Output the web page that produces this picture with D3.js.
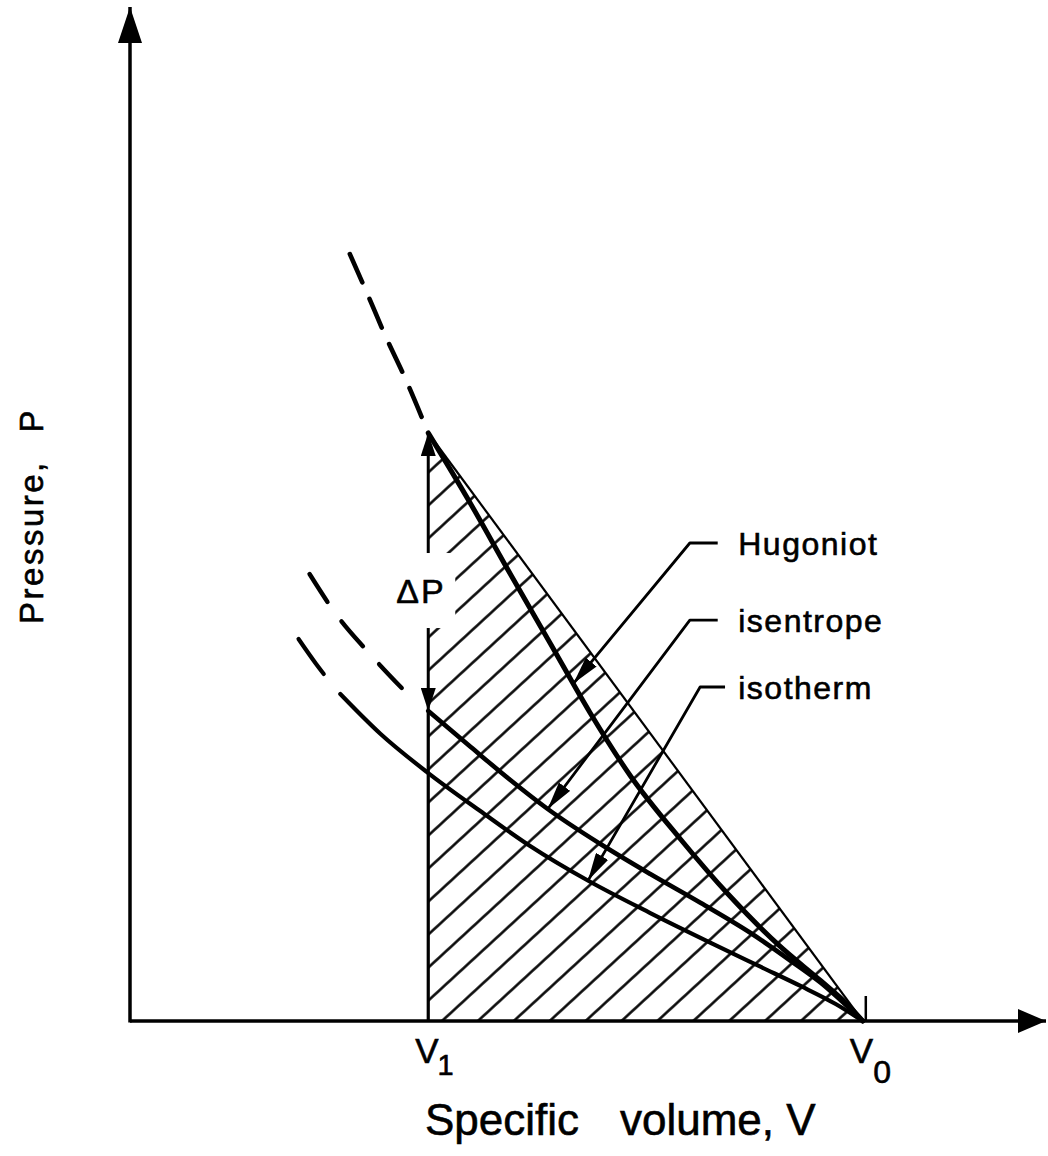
<!DOCTYPE html>
<meta charset="utf-8">
<style>
body { margin: 0; background: #fff; }
svg text { font-family: 'Liberation Sans', Arial, sans-serif; fill: #000; stroke: #000; stroke-width: 0.6px; }
.curve { fill: none; stroke: #000; stroke-linecap: round; stroke-linejoin: round; }
.thin { fill: none; stroke: #000; }
</style>
<body>
<div id="chart"></div>
<script src="https://cdnjs.cloudflare.com/ajax/libs/d3/7.8.5/d3.min.js"></script>
<script>
// specific volume V (V0 = 1) and pressure P, arbitrary units
var V1 = 0.407, V0 = 1.0;

var hugoniotDashed = [[0.300,7.594],[0.324,7.198],[0.348,6.792],[0.376,6.356],[0.407,5.822]];
var hugoniot = [[0.407,5.822],[0.465,5.119],[0.519,4.426],[0.574,3.733],[0.628,3.050],[0.683,2.426],
                [0.751,1.802],[0.816,1.257],[0.888,0.733],[0.943,0.396],[0.977,0.178],[1.0,0]];
var isentropeDashed = [[0.245,4.426],[0.281,4.030],[0.325,3.653],[0.380,3.228]];
var isentrope = [[0.407,3.069],[0.465,2.713],[0.519,2.386],[0.570,2.099],[0.642,1.752],[0.710,1.455],
                 [0.779,1.168],[0.847,0.871],[0.902,0.594],[0.943,0.376],[0.977,0.158],[1.0,0]];
var isothermDashed = [[0.230,3.782],[0.254,3.535],[0.281,3.287]];
var isotherm = [[0.287,3.238],[0.342,2.842],[0.407,2.455],[0.478,2.079],[0.546,1.733],[0.626,1.386],
                [0.710,1.069],[0.796,0.762],[0.861,0.535],[0.915,0.347],[0.963,0.168],[1.0,0]];

// curve labels with leader arrows
var labelNames = ["Hugoniot", "isentrope", "isotherm"];
var labelElbowV = [0.764, 0.764, 0.778];
var labelElbowP = [4.733, 3.970, 3.307];
var labelLineEndV = [0.802, 0.802, 0.812];
var labelTextV = [0.830, 0.830, 0.830];
var labelTipV = [0.605, 0.570, 0.625];

var width = 1048, height = 1156;

var x = d3.scaleLinear().domain([0, 1.25]).range([130, 1046]);
var y = d3.scaleLinear().domain([0, 10.04]).range([1021, 7]);

var svg = d3.select("#chart").append("svg")
  .attr("width", width)
  .attr("height", height);

var defs = svg.append("defs");

function arrowMarker(id, len, half) {
  defs.append("marker").attr("id", id)
    .attr("markerUnits", "userSpaceOnUse")
    .attr("viewBox", [-len, -half, len, half * 2].join(" "))
    .attr("refX", 0).attr("refY", 0)
    .attr("markerWidth", len).attr("markerHeight", half * 2)
    .attr("orient", "auto-start-reverse")
    .append("path")
    .attr("d", "M0,0L" + (-len) + "," + (-half) + "L" + (-len) + "," + half + "Z")
    .attr("fill", "#000");
}
arrowMarker("arrowX", 28, 12);
arrowMarker("arrowY", 36, 12);
arrowMarker("arrowLead", 28, 7);
arrowMarker("arrowDP", 23, 7.5);

// hatching pattern
var hs = 24.3;
var pat = defs.append("pattern").attr("id", "hatch")
  .attr("patternUnits", "userSpaceOnUse")
  .attr("width", hs).attr("height", 10)
  .attr("patternTransform", "translate(442,1021) rotate(47.4) translate(" + (-hs / 2) + ",0)");
pat.append("line")
  .attr("x1", hs / 2).attr("x2", hs / 2)
  .attr("y1", -1).attr("y2", 11)
  .attr("stroke", "#000").attr("stroke-width", 2.5);

function interp(data, v) {
  for (var i = 1; i < data.length; i++) {
    if (v <= data[i][0]) {
      var t = (v - data[i-1][0]) / (data[i][0] - data[i-1][0]);
      return data[i-1][1] + t * (data[i][1] - data[i-1][1]);
    }
  }
  return data[data.length - 1][1];
}

var H1 = hugoniot[0][1], S1 = isentrope[0][1];

var line = d3.line()
  .x(function(d) { return x(d[0]); })
  .y(function(d) { return y(d[1]); })
  .curve(d3.curveMonotoneX);
var straight = d3.line()
  .x(function(d) { return x(d[0]); })
  .y(function(d) { return y(d[1]); });

// hatched area under the Rayleigh line
svg.append("path")
  .attr("d", straight([[V1, 0], [V1, H1], [V0, 0]]) + "Z")
  .attr("fill", "url(#hatch)");

// Rayleigh line
svg.append("path").attr("class", "thin")
  .attr("d", straight([[V1, H1], [V0, 0]]))
  .attr("stroke-width", 2.2);

// curves
var curves = [
  { data: hugoniot, w: 5 },
  { data: isentrope, w: 4.6 },
  { data: isotherm, w: 4.2 },
  { data: hugoniotDashed, w: 4.6, dash: "31,18" },
  { data: isentropeDashed, w: 4.4, dash: "33,24" },
  { data: isothermDashed, w: 4.2, dash: "43,40" }
];
curves.forEach(function(c) {
  svg.append("path").attr("class", "curve")
    .attr("d", line(c.data))
    .attr("stroke-width", c.w)
    .attr("stroke-dasharray", c.dash || null);
});

// V1 line and delta P arrows
svg.append("path").attr("class", "thin")
  .attr("d", straight([[V1, 0], [V1, S1]]))
  .attr("stroke-width", 3.2);
svg.append("path").attr("class", "thin")
  .attr("d", straight([[V1, S1], [V1, H1]]))
  .attr("stroke-width", 3)
  .attr("marker-start", "url(#arrowDP)")
  .attr("marker-end", "url(#arrowDP)");

// small tick at V0
svg.append("line")
  .attr("x1", x(V0) + 3).attr("x2", x(V0) + 3)
  .attr("y1", y(0) - 25).attr("y2", y(0))
  .attr("stroke", "#000").attr("stroke-width", 2.5);

// delta P label with white box
var dpY = (y(H1) + y(S1)) / 2 + 18;
svg.append("rect")
  .attr("x", x(V1) - 37).attr("y", dpY - 37)
  .attr("width", 64).attr("height", 75)
  .attr("fill", "#fff");
svg.append("text")
  .attr("x", x(V1) - 32).attr("y", dpY + 13)
  .attr("font-size", 34)
  .attr("letter-spacing", 2)
  .text("\u0394P");

// leaders and labels
labelNames.forEach(function(name, i) {
  var curve = [hugoniot, isentrope, isotherm][i];
  var tip = [labelTipV[i], interp(curve, labelTipV[i])];
  svg.append("path").attr("class", "thin")
    .attr("d", straight([[labelLineEndV[i], labelElbowP[i]], [labelElbowV[i], labelElbowP[i]], tip]))
    .attr("stroke-width", 2.8)
    .attr("stroke-linejoin", "round")
    .attr("marker-end", "url(#arrowLead)");
  svg.append("text")
    .attr("x", x(labelTextV[i]))
    .attr("y", y(labelElbowP[i]) + 12)
    .attr("font-size", 32)
    .attr("letter-spacing", 1.5)
    .text(name);
});

// axes
svg.append("path").attr("class", "thin")
  .attr("d", "M" + x.range()[0] + "," + y(0) + "H" + x.range()[1])
  .attr("stroke-width", 3.5)
  .attr("marker-end", "url(#arrowX)");
svg.append("path").attr("class", "thin")
  .attr("d", "M" + x(0) + "," + (y.range()[0] + 1.5) + "V" + y.range()[1])
  .attr("stroke-width", 3.5)
  .attr("marker-end", "url(#arrowY)");

// V1, V0 labels
var v1 = svg.append("text").attr("x", x(V1) - 13).attr("y", 1063).attr("font-size", 35);
v1.append("tspan").text("V");
v1.append("tspan").attr("font-size", 29).attr("dy", 12).attr("dx", -1).text("1");

var v0 = svg.append("text").attr("x", x(V0) - 13).attr("y", 1063).attr("font-size", 35);
v0.append("tspan").text("V");
v0.append("tspan").attr("font-size", 32).attr("dy", 20).attr("dx", 0).text("0");

// axis titles
var xt = svg.append("text").attr("y", 1135).attr("font-size", 44);
xt.append("tspan").attr("x", 425).text("Specific");
xt.append("tspan").attr("x", 620).text("volume, V");

svg.append("text")
  .attr("transform", "translate(43,516) rotate(-90)")
  .attr("text-anchor", "middle")
  .attr("font-size", 33)
  .attr("letter-spacing", 2.5)
  .attr("word-spacing", 16)
  .text("Pressure, P");
</script>
</body>
